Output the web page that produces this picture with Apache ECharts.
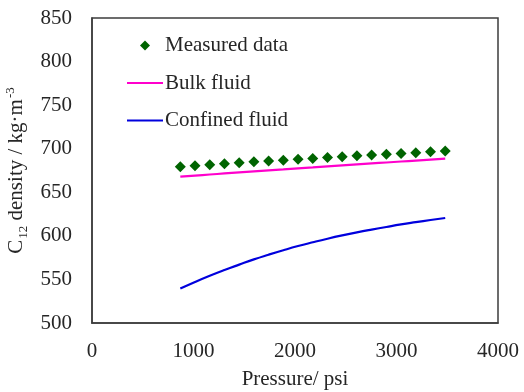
<!DOCTYPE html>
<html>
<head>
<meta charset="utf-8">
<script src="https://cdn.jsdelivr.net/npm/echarts@6/dist/echarts.min.js"></script>
<style>
html,body{margin:0;padding:0;background:#fff;}
#chart{width:524px;height:392px;}
</style>
</head>
<body>
<div id="chart"></div>
<script>
// Pressure (psi)
const pressures = [870, 1015, 1160, 1305, 1450, 1595, 1740, 1885, 2030, 2175, 2320, 2465, 2610, 2755, 2900, 3045, 3190, 3335, 3480];
// C12 density (kg/m3)
const measuredData = [679.4, 680.5, 681.6, 682.7, 683.8, 684.9, 685.9, 686.9, 687.9, 688.9, 689.9, 690.9, 691.9, 692.8, 693.7, 694.6, 695.5, 696.5, 697.5];
const bulkFluid = [668.0, 669.2, 670.4, 671.6, 672.8, 674.0, 675.2, 676.3, 677.5, 678.6, 679.8, 680.9, 682.0, 683.1, 684.2, 685.3, 686.4, 687.5, 688.6];
const confinedFluid = [539.5, 547.1, 554.2, 560.8, 567.0, 573.0, 578.4, 583.5, 588.3, 592.6, 596.7, 600.5, 604.0, 607.2, 610.2, 613.1, 615.7, 618.2, 620.5];
const seriesNames = ['Measured data', 'Bulk fluid', 'Confined fluid'];
const xTicks = [0, 1000, 2000, 3000, 4000];
const yTicks = [500, 550, 600, 650, 700, 750, 800, 850];

const FONT = '"Liberation Serif", "Times New Roman", serif';
const TXT = '#262626';
const GREEN = '#006400', PINK = '#ff00cc', BLUE = '#0000dd';
const pair = (ys) => pressures.map((p, i) => [p, ys[i]]);

const chart = echarts.init(document.getElementById('chart'), null, {renderer: 'canvas'});
chart.setOption({
  animation: false,
  backgroundColor: '#ffffff',
  textStyle: {fontFamily: FONT, color: TXT},
  grid: {left: 92, right: 26, top: 18, bottom: 69, containLabel: false, outerBoundsMode: 'none',
         show: true, borderColor: '#3c3c3c', borderWidth: 1.5, backgroundColor: 'transparent'},
  legend: {
    orient: 'vertical', left: 127, top: 35, padding: 0, itemWidth: 36, itemHeight: 10, itemGap: 16.5,
    symbolKeepAspect: true,
    data: [
      {name: seriesNames[0], icon: 'path://M5,0L10,5L5,10L0,5Z', itemStyle: {color: GREEN, opacity: 1}},
      {name: seriesNames[1], icon: 'path://M0,0H36V2.2H0Z', itemStyle: {color: PINK}},
      {name: seriesNames[2], icon: 'path://M0,0H36V2.2H0Z', itemStyle: {color: BLUE}}
    ],
    textStyle: {fontFamily: FONT, fontSize: 21, color: TXT, padding: [0, 0, 0, -3]}
  },
  xAxis: {
    type: 'value', min: xTicks[0], max: xTicks[xTicks.length - 1], interval: 1000,
    name: 'Pressure/ psi', nameLocation: 'middle', nameGap: 46,
    nameTextStyle: {fontFamily: FONT, fontSize: 21, color: TXT},
    axisLine: {show: true, lineStyle: {color: '#3c3c3c', width: 1.5}},
    axisTick: {show: false}, splitLine: {show: false},
    axisLabel: {fontFamily: FONT, fontSize: 21, color: TXT, margin: 18, formatter: (v) => String(v)}
  },
  yAxis: {
    type: 'value', min: yTicks[0], max: yTicks[yTicks.length - 1], interval: 50,
    name: '{a|C}{sub|12}{a| density / kg·m}{sup|-3}', nameLocation: 'middle', nameGap: 59,
    nameTextStyle: {
      fontFamily: FONT, fontSize: 21, color: TXT,
      rich: {
        a: {fontFamily: FONT, fontSize: 21, color: TXT, lineHeight: 26, verticalAlign: 'middle'},
        sub: {fontFamily: FONT, fontSize: 13, color: TXT, lineHeight: 26, verticalAlign: 'bottom', padding: [8, 0, 0, 1]},
        sup: {fontFamily: FONT, fontSize: 13, color: TXT, lineHeight: 26, verticalAlign: 'top', padding: [0, 0, 8, 1]}
      }
    },
    axisLine: {show: true, lineStyle: {color: '#3c3c3c', width: 1.5}},
    axisTick: {show: false}, splitLine: {show: false},
    axisLabel: {fontFamily: FONT, fontSize: 21, color: TXT, margin: 20, formatter: (v) => String(v)}
  },
  series: [
    {name: seriesNames[0], type: 'scatter', symbol: 'diamond', symbolSize: 11, data: pair(measuredData), itemStyle: {color: GREEN, opacity: 1}, z: 3},
    {name: seriesNames[1], type: 'line', symbol: 'none', showSymbol: false, smooth: true, data: pair(bulkFluid), lineStyle: {color: PINK, width: 2.2}, itemStyle: {color: PINK}, z: 2},
    {name: seriesNames[2], type: 'line', symbol: 'none', showSymbol: false, smooth: true, data: pair(confinedFluid), lineStyle: {color: BLUE, width: 2.2}, itemStyle: {color: BLUE}, z: 2}
  ]
});
</script>
</body>
</html>
